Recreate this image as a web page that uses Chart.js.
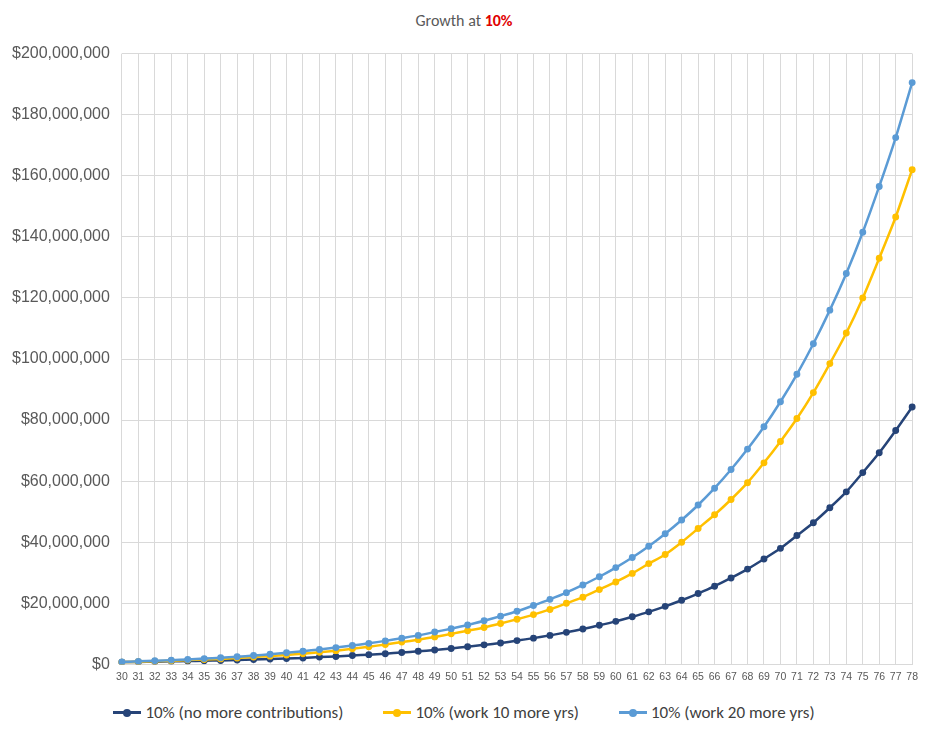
<!DOCTYPE html>
<html><head><meta charset="utf-8">
<script src="https://cdn.jsdelivr.net/npm/chart.js@4"></script>
<style>
body{margin:0;background:#fff;font-family:Calibri,Carlito,"Liberation Sans",sans-serif;}
#wrap{position:relative;width:928px;height:736px;}
#title{position:absolute;top:11px;width:928px;text-align:center;font-size:16px;color:#595959;}
#title b{color:#e00000;}
#legend{position:absolute;top:702px;left:0;width:928px;display:flex;justify-content:center;gap:40px;font-size:17px;color:#404040;}
.it{display:flex;align-items:center;gap:4px;}
.sw{position:relative;width:28px;height:3px;}
.sw i{position:absolute;left:10px;top:-2.5px;width:8px;height:8px;border-radius:50%;}
</style></head><body>
<div id="wrap">
<div id="title">Growth at <b>10%</b></div>
<div style="position:absolute;top:32px;left:0;width:924px;height:657px"><canvas id="c"></canvas></div>
<div id="legend"></div>
</div>
<script>
const ages=[];for(let a=30;a<=78;a++)ages.push(String(a));
const noMore=[0.75,0.8,0.9,1.0,1.1,1.2,1.3,1.45,1.6,1.75,1.95,2.1,2.4,2.6,2.9,3.2,3.5,3.9,4.3,4.7,5.2,5.8,6.4,7.0,7.8,8.6,9.5,10.5,11.6,12.8,14.1,15.6,17.2,19,21,23.2,25.6,28.3,31.2,34.5,38,42.2,46.4,51.3,56.5,62.8,69.3,76.6,84.3];
const work10=[0.75,0.9,1.05,1.2,1.4,1.6,1.8,2.1,2.4,2.7,3.1,3.5,4.0,4.5,5.1,5.8,6.5,7.3,8.1,9,10,11,12.1,13.4,14.8,16.3,18,20,22,24.5,27,29.8,33,36,40,44.5,49,54,59.5,66,73,80.5,89,98.5,108.5,120,133,146.5,162];
const work20=[0.8,1.0,1.2,1.4,1.6,1.9,2.2,2.5,2.9,3.3,3.8,4.3,4.9,5.5,6.2,6.9,7.7,8.6,9.5,10.6,11.7,12.9,14.3,15.8,17.4,19.3,21.3,23.5,26,28.7,31.7,35,38.7,42.8,47.3,52.2,57.7,63.8,70.5,77.8,86,95,105,116,128,141.5,156.5,172.5,190.5];
const names=["10% (no more contributions)","10% (work 10 more yrs)","10% (work 20 more yrs)"];
const colors=["#264478","#FFC000","#5B9BD5"];
const series=[noMore,work10,work20];
const ds=series.map((s,i)=>({label:names[i],data:s.map(v=>v*1e6),borderColor:colors[i],backgroundColor:colors[i],borderWidth:2.5,pointRadius:2.2,pointHoverRadius:3,tension:0.2,order:3-i}));
new Chart(document.getElementById('c'),{type:'line',data:{labels:ages,datasets:ds},
options:{responsive:true,maintainAspectRatio:false,animation:false,
layout:{padding:{left:0,right:10,top:0,bottom:0}},
plugins:{legend:{display:false},tooltip:{enabled:false}},
scales:{x:{grid:{color:'#d9d9d9',drawTicks:false},border:{color:'#d9d9d9'},ticks:{color:'#595959',font:{size:10.5},maxRotation:0,autoSkip:false,padding:6}},
y:{min:0,max:200e6,grid:{color:'#d9d9d9',drawTicks:false},border:{display:false},
ticks:{stepSize:20e6,color:'#595959',font:{size:16},padding:12,callback:v=>'$'+Number(v).toLocaleString('en-US')}}}}});
const lg=document.getElementById('legend');
names.forEach((n,i)=>{lg.innerHTML+=`<div class="it"><div class="sw" style="background:${colors[i]}"><i style="background:${colors[i]}"></i></div>${n}</div>`;});
</script>
</body></html>
